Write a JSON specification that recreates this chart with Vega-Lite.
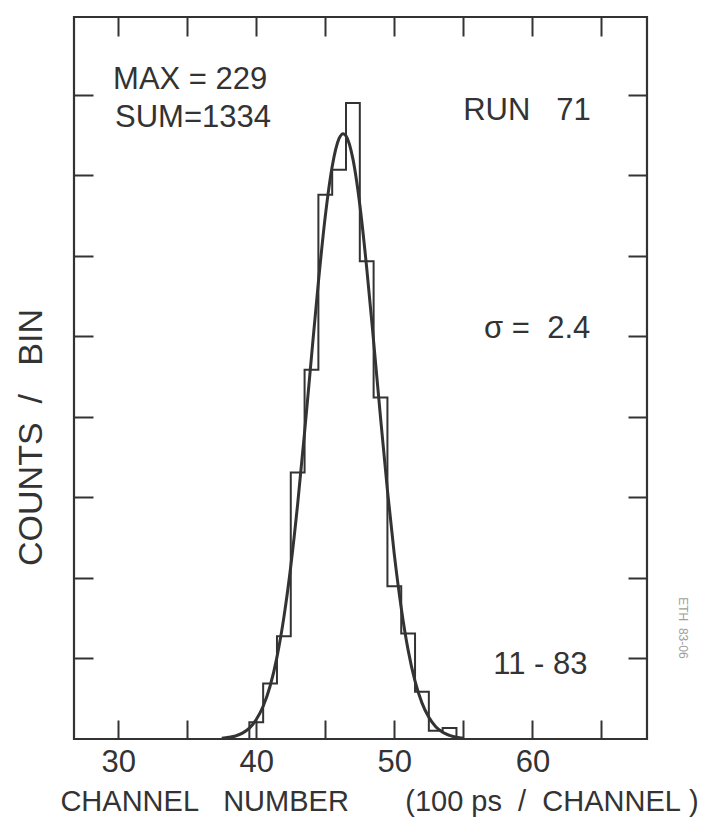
{
  "$schema": "https://vega.github.io/schema/vega-lite/v6.json",
  "width": 573,
  "height": 722,
  "autosize": "none",
  "padding": {"left": 74, "top": 17, "right": 62, "bottom": 86},
  "background": "white",
  "config": {
    "view": {"stroke": "#333333", "strokeWidth": 2.2},
    "font": "Liberation Sans",
    "axis": {
      "grid": false,
      "domain": false,
      "tickColor": "#333333",
      "tickWidth": 2,
      "tickSize": -19,
      "labelFont": "Liberation Sans",
      "titleFont": "Liberation Sans",
      "labelColor": "#333333",
      "titleColor": "#333333",
      "titleFontWeight": "normal"
    }
  },
  "datasets": {
    "curve": [
      {"x": 37.5, "f": 0.3}, {"x": 38.0, "f": 0.6}, {"x": 38.5, "f": 1.1}, {"x": 39.0, "f": 2.1},
      {"x": 39.5, "f": 3.9}, {"x": 40.0, "f": 7.0}, {"x": 40.5, "f": 11.8}, {"x": 41.0, "f": 19.0},
      {"x": 41.5, "f": 29.5}, {"x": 42.0, "f": 43.8}, {"x": 42.5, "f": 62.2}, {"x": 43.0, "f": 84.7},
      {"x": 43.5, "f": 110.4}, {"x": 44.0, "f": 137.7}, {"x": 44.5, "f": 164.5}, {"x": 45.0, "f": 188.3},
      {"x": 45.5, "f": 206.2}, {"x": 46.0, "f": 216.3}, {"x": 46.3, "f": 218.0}, {"x": 46.5, "f": 217.2},
      {"x": 47.0, "f": 208.9}, {"x": 47.5, "f": 192.4}, {"x": 48.0, "f": 169.6}, {"x": 48.5, "f": 143.2},
      {"x": 49.0, "f": 115.8}, {"x": 49.5, "f": 89.6}, {"x": 50.0, "f": 66.4}, {"x": 50.5, "f": 47.2},
      {"x": 51.0, "f": 32.0}, {"x": 51.5, "f": 20.8}, {"x": 52.0, "f": 13.0}, {"x": 52.5, "f": 7.8},
      {"x": 53.0, "f": 4.4}, {"x": 53.5, "f": 2.4}, {"x": 54.0, "f": 1.3}, {"x": 54.5, "f": 0.6},
      {"x": 55.0, "f": 0.3}
    ],
    "hist": [
      {"x": 39.5, "n": 0, "o": 0},
      {"x": 39.5, "n": 6, "o": 1},
      {"x": 40.5, "n": 20, "o": 2},
      {"x": 41.5, "n": 37, "o": 3},
      {"x": 42.5, "n": 96, "o": 4},
      {"x": 43.5, "n": 133, "o": 5},
      {"x": 44.5, "n": 196, "o": 6},
      {"x": 45.5, "n": 205, "o": 7},
      {"x": 46.5, "n": 229, "o": 8},
      {"x": 47.5, "n": 172, "o": 9},
      {"x": 48.5, "n": 123, "o": 10},
      {"x": 49.5, "n": 55, "o": 11},
      {"x": 50.5, "n": 38, "o": 12},
      {"x": 51.5, "n": 17, "o": 13},
      {"x": 52.5, "n": 3, "o": 14},
      {"x": 53.5, "n": 4, "o": 15},
      {"x": 54.5, "n": 0, "o": 16}
    ],
    "notes": [
      {"x": 29.63, "y": 234, "t": "MAX = 229"},
      {"x": 29.77, "y": 220.4, "t": "SUM=1334"},
      {"x": 54.99, "y": 222.9, "t": "RUN\u00a0\u00a0\u00a071"},
      {"x": 56.5, "y": 144.4, "t": "σ\u00a0=\u00a0\u00a02.4"},
      {"x": 57.16, "y": 23.4, "t": "11\u00a0-\u00a083"}
    ],
    "stamp": [
      {"x": 70.9, "y": 40, "t": "ETH\u00a0\u00a083-06"}
    ]
  },
  "layer": [
    {
      "data": {"name": "curve"},
      "mark": {"type": "line", "interpolate": "monotone", "color": "#333333", "strokeWidth": 3},
      "encoding": {
        "x": {
          "field": "x", "type": "quantitative",
          "scale": {"domain": [26.8, 68.3], "nice": false, "zero": false},
          "axis": {
            "orient": "bottom",
            "values": [30, 35, 40, 45, 50, 55, 60, 65],
            "labelExpr": "datum.value % 10 === 0 ? datum.label : ''",
            "labelFontSize": 31,
            "labelPadding": 27,
            "title": "CHANNEL\u00a0\u00a0\u00a0NUMBER\u00a0\u00a0\u00a0\u00a0\u00a0\u00a0\u00a0(100\u00a0ps\u00a0\u00a0/\u00a0\u00a0CHANNEL\u00a0)",
            "titleFontSize": 29,
            "titleX": 305,
            "titleY": 71,
            "titleAlign": "center",
            "titleBaseline": "alphabetic"
          }
        },
        "y": {
          "field": "f", "type": "quantitative",
          "scale": {"domain": [0, 260], "nice": false, "zero": false},
          "axis": {
            "orient": "left",
            "values": [29, 58, 87, 116, 145, 174, 203, 232],
            "labels": false,
            "title": "COUNTS\u00a0\u00a0/\u00a0\u00a0\u00a0BIN",
            "titleFontSize": 34,
            "titleAngle": -90,
            "titleX": -33,
            "titleY": 420,
            "titleAlign": "center",
            "titleBaseline": "alphabetic"
          }
        }
      }
    },
    {
      "data": {"name": "hist"},
      "mark": {"type": "line", "interpolate": "step-after", "color": "#333333", "strokeWidth": 2},
      "encoding": {
        "x": {
          "field": "x", "type": "quantitative",
          "axis": {"orient": "top", "values": [30, 35, 40, 45, 50, 55, 60, 65], "labels": false, "title": null, "tickSize": 19, "offset": -19}
        },
        "y": {
          "field": "n", "type": "quantitative",
          "axis": {"orient": "right", "values": [29, 58, 87, 116, 145, 174, 203, 232], "labels": false, "title": null}
        },
        "order": {"field": "o", "type": "quantitative"}
      }
    },
    {
      "data": {"name": "notes"},
      "mark": {"type": "text", "align": "left", "baseline": "alphabetic", "fontSize": 31, "color": "#333333", "font": "Liberation Sans"},
      "encoding": {
        "x": {"field": "x", "type": "quantitative", "axis": null},
        "y": {"field": "y", "type": "quantitative", "axis": null},
        "text": {"field": "t"}
      }
    },
    {
      "data": {"name": "stamp"},
      "mark": {"type": "text", "align": "center", "baseline": "middle", "angle": 90, "fontSize": 12, "color": "#a0a0a0", "font": "Liberation Sans"},
      "encoding": {
        "x": {"field": "x", "type": "quantitative", "axis": null},
        "y": {"field": "y", "type": "quantitative", "axis": null},
        "text": {"field": "t"}
      }
    }
  ],
  "resolve": {"axis": {"x": "independent", "y": "independent"}}
}
